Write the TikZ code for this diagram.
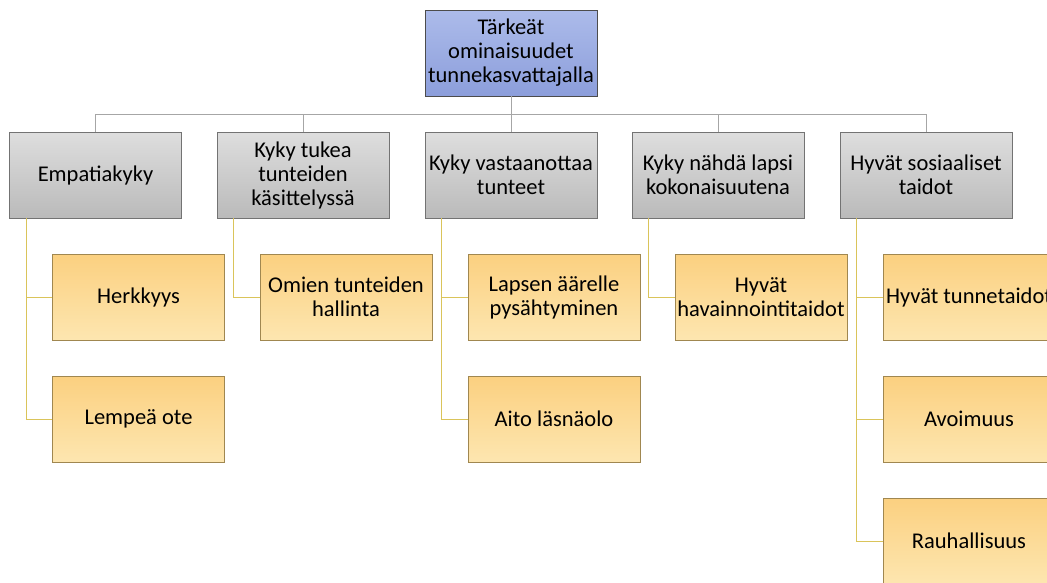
\documentclass[tikz,border=0pt]{standalone}
\usepackage{fontspec}
\setmainfont{Carlito}
\begin{document}
\begin{tikzpicture}[x=1pt,y=-1pt,
  box/.style={rectangle, minimum width=172pt, minimum height=86pt, inner sep=0pt, align=center,
    font=\fontsize{22.5}{24}\selectfont, text=black, line width=0.8pt},
  rootbox/.style={box, draw=black!70, top color={rgb,255:red,172;green,187;blue,234}, bottom color={rgb,255:red,140;green,158;blue,219}},
  lvl/.style={box, draw=black!55, top color=black!13, bottom color=black!27},
  leaf/.style={box, draw={rgb,255:red,160;green,135;blue,80}, top color={rgb,255:red,251;green,208;blue,128}, bottom color={rgb,255:red,253;green,230;blue,176}},
  bus/.style={draw={rgb,255:red,166;green,166;blue,166}, line width=0.9pt},
  sub/.style={draw={rgb,255:red,218;green,196;blue,90}, line width=0.9pt}
]
\useasboundingbox (0,0) rectangle (1047,582);
\clip (0,0) rectangle (1047,582);
\fill[white] (0,0) rectangle (1047,582);

\coordinate (busY) at (511,114);

\node[rootbox] (root) at (511,53) {Tärkeät\\ominaisuudet\\tunnekasvattajalla};

\node[lvl] (a) at (95.5,175) {Empatiakyky};
\node[lvl] (b) at (303,175) {Kyky tukea\\tunteiden\\käsittelyssä};
\node[lvl] (c) at (511,175) {Kyky vastaanottaa\\tunteet};
\node[lvl] (d) at (718,175) {Kyky nähdä lapsi\\kokonaisuutena};
\node[lvl] (e) at (926,175) {Hyvät sosiaaliset\\taidot};

\node[leaf] (a1) at (138.5,297) {Herkkyys};
\node[leaf] (a2) at (138.5,419) {Lempeä ote};
\node[leaf] (b1) at (346,297) {Omien tunteiden\\hallinta};
\node[leaf] (c1) at (554,297) {Lapsen äärelle\\pysähtyminen};
\node[leaf] (c2) at (554,419) {Aito läsnäolo};
\node[leaf] (d1) at (761,297) {Hyvät\\havainnointitaidot};
\node[leaf] (e1) at (969,297) {Hyvät tunnetaidot};
\node[leaf] (e2) at (969,419) {Avoimuus};
\node[leaf] (e3) at (969,541) {Rauhallisuus};

\draw[bus] (root.south) -- (busY);
\foreach \n in {a,b,c,d,e}{
  \draw[bus] (busY -| \n.north) -- (\n.north);
}
\draw[bus] (busY -| a.north) -- (busY -| e.north);

\foreach \p/\k in {a/a1,a/a2,b/b1,c/c1,c/c2,d/d1,e/e1,e/e2,e/e3}{
  \draw[sub] ([xshift=17pt]\p.south west) |- (\k.west);
}
\end{tikzpicture}
\end{document}
